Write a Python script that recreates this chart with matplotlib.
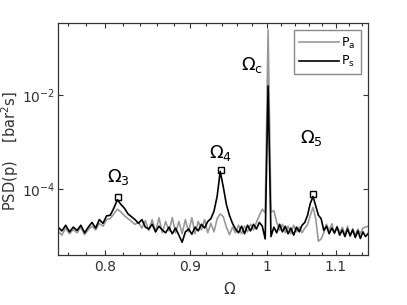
import numpy as np
import matplotlib
matplotlib.use("Agg")
import matplotlib.pyplot as plt
from matplotlib.ticker import FixedLocator, FixedFormatter, NullLocator

# frequency grid (Omega), 0.75 .. 1.15 in steps of 0.004
omega = np.linspace(0.75, 1.15, 101)

# log10 PSD
log_ps = [-4.80, -4.88, -4.76, -4.90, -4.80, -4.87, -4.76, -4.92, -4.80, -4.70,
          -4.82, -4.64, -4.72, -4.56, -4.55, -4.40, -4.22, -4.32, -4.40, -4.52,
          -4.58, -4.64, -4.72, -4.64, -4.80, -4.84, -4.74, -4.90, -4.78, -4.86,
          -4.92, -4.80, -4.94, -4.82, -4.97, -5.12, -4.90, -4.84, -4.95, -4.80,
          -4.88, -4.74, -4.82, -4.68, -4.62, -4.46, -4.15, -3.62, -3.95, -4.32,
          -4.55, -4.72, -4.84, -4.92, -4.78, -4.94, -4.76, -4.88, -4.74, -4.84,
          -4.70, -4.78, -5.05, -1.81, -5.00, -4.80, -4.92, -4.74, -4.90, -4.78,
          -4.94, -4.82, -4.97, -4.80, -4.90, -4.76, -4.70, -4.55, -4.30, -4.15,
          -4.35, -4.55, -4.62, -4.87, -4.78, -4.94, -4.82, -4.92, -4.80, -4.97,
          -4.86, -5.00, -4.84, -4.98, -4.86, -5.02, -4.88, -5.04, -4.90, -5.00,
          -4.94]
log_pa = [-4.88, -4.97, -4.82, -4.94, -4.85, -4.92, -4.80, -4.96, -4.85, -4.78,
          -4.86, -4.72, -4.78, -4.64, -4.62, -4.52, -4.42, -4.48, -4.56, -4.62,
          -4.68, -4.74, -4.70, -4.82, -4.66, -4.87, -4.64, -4.90, -4.60, -4.92,
          -4.68, -4.88, -4.60, -4.92, -4.68, -4.94, -4.64, -4.90, -4.60, -4.94,
          -4.68, -4.86, -4.64, -4.92, -4.72, -4.90, -4.62, -4.52, -4.58, -4.80,
          -4.96, -4.80, -4.92, -4.76, -4.94, -4.78, -4.90, -4.74, -4.86, -4.70,
          -4.55, -4.42, -4.50, -0.62, -4.48, -4.45, -4.70, -4.87, -4.74, -4.92,
          -4.78, -4.94, -4.76, -4.90, -4.80, -4.92, -4.82, -4.75, -4.55, -4.38,
          -4.62, -5.10, -5.05, -4.92, -4.74, -4.88, -4.73, -4.94, -4.78, -4.92,
          -4.80, -4.97, -4.78, -5.00, -4.83, -4.98, -4.84, -4.94, -4.82, -4.80,
          -4.78]

peak_omega = [0.815, 0.939, 1.066]
peak_psd = [7.0e-5, 2.6e-4, 8.0e-5]

labels = [r"$\Omega_3$", r"$\Omega_4$", r"$\Omega_\mathrm{c}$", r"$\Omega_5$"]
label_x = [0.815, 0.938, 0.980, 1.064]
label_y = [10**-3.74, 10**-3.23, 10**-1.36, 10**-2.91]

xticks = [0.8, 0.9, 1.0, 1.1]
xticklabels = ["0.8", "0.9", "1", "1.1"]
xminor = [0.76, 0.78, 0.82, 0.84, 0.86, 0.88, 0.92, 0.94, 0.96, 0.98,
          1.02, 1.04, 1.06, 1.08, 1.12, 1.14]
yticks = [1e-4, 1e-2]
yticklabels = [r"$10^{-4}$", r"$10^{-2}$"]

axcol = "#333333"
plt.rcParams["font.family"] = "DejaVu Sans"
plt.rcParams["mathtext.fontset"] = "dejavusans"

fig = plt.figure(figsize=(4.07, 3.05), dpi=100)
ax = fig.add_axes([0.1425, 0.164, 0.7617, 0.7607])

ax.plot(omega, 10 ** np.array(log_pa), color="#999999", lw=1.2, label=r"P$_\mathrm{a}$")
ax.plot(omega, 10 ** np.array(log_ps), color="black", lw=1.2, label=r"P$_\mathrm{s}$")
ax.plot(peak_omega, peak_psd, ls="none", marker="s", ms=5, mfc="none",
        mec="black", mew=1.0)

for t, x, y in zip(labels, label_x, label_y):
    ax.text(x, y, t, fontsize=13, ha="center", va="center")

ax.set_xscale("log")
ax.set_yscale("log")
ax.set_xlim(0.75, 1.15)
ax.set_ylim(10**-5.39, 10**-0.475)

ax.xaxis.set_major_locator(FixedLocator(xticks))
ax.xaxis.set_major_formatter(FixedFormatter(xticklabels))
ax.xaxis.set_minor_locator(FixedLocator(xminor))
ax.xaxis.set_minor_formatter(FixedFormatter([""] * len(xminor)))
ax.yaxis.set_major_locator(FixedLocator(yticks))
ax.yaxis.set_major_formatter(FixedFormatter(yticklabels))
ax.yaxis.set_minor_locator(NullLocator())

ax.tick_params(which="both", direction="in", top=True, right=True,
               colors=axcol, labelsize=10)
ax.tick_params(axis="y", pad=2)
ax.tick_params(which="major", length=3.5, width=0.8)
ax.tick_params(which="minor", length=2.5, width=0.8)
for s in ax.spines.values():
    s.set_color(axcol)
    s.set_linewidth(0.9)

ax.set_xlabel(r"$\Omega$", fontsize=11, color=axcol)
ax.xaxis.set_label_coords(0.555, -0.11)
ax.set_ylabel(r"PSD(p)    [bar$^2$s]", fontsize=10.5, color=axcol)
ax.yaxis.set_label_coords(-0.12, 0.45)

leg = ax.legend(loc="upper right", fontsize=9, fancybox=False, framealpha=1,
                edgecolor="#888888", handlelength=3.2, borderaxespad=0.6,
                handletextpad=0.2, borderpad=0.4, labelspacing=0.3)
leg.get_frame().set_linewidth(1.0)

fig.savefig("out.png", dpi=100)
